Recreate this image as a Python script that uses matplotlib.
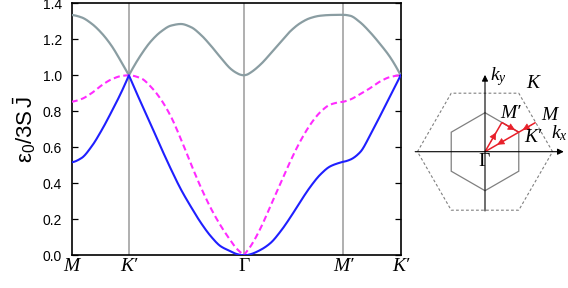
import numpy as np
import matplotlib
matplotlib.use("Agg")
import matplotlib.pyplot as plt
from matplotlib.patches import Polygon, FancyArrowPatch

# ---------------- data ----------------
sym_pos = [0.0, 0.577, 1.732, 2.732, 3.309]
sym_labels = ["M", "K′", "Γ", "M′", "K′"]
sym_italic = [True, True, False, True, True]

k_path = [0.0, 0.1, 0.2, 0.3, 0.4, 0.5, 0.577,
          0.7, 0.8, 0.9, 1.0, 1.1, 1.2, 1.3, 1.4, 1.5, 1.6, 1.65, 1.7, 1.732,
          1.76, 1.8, 1.9, 2.0, 2.1, 2.2, 2.3, 2.4, 2.5, 2.6, 2.7, 2.732,
          2.8, 2.9, 3.0, 3.1, 3.2, 3.309]

band_upper = [1.335, 1.322, 1.288, 1.236, 1.166, 1.075, 1.000,
              1.115, 1.190, 1.243, 1.276, 1.285, 1.268, 1.225, 1.165, 1.098, 1.036, 1.016, 1.003, 1.000,
              1.003, 1.015, 1.060, 1.120, 1.183, 1.245, 1.290, 1.318, 1.331, 1.335, 1.336, 1.336,
              1.331, 1.295, 1.240, 1.175, 1.103, 1.000]

band_lower = [0.517, 0.540, 0.603, 0.692, 0.795, 0.905, 1.000,
              0.845, 0.723, 0.598, 0.478, 0.366, 0.270, 0.181, 0.106, 0.050, 0.022, 0.009, 0.002, 0.000,
              0.001, 0.006, 0.030, 0.068, 0.132, 0.211, 0.298, 0.380, 0.448, 0.494, 0.515, 0.520,
              0.531, 0.572, 0.665, 0.772, 0.882, 1.000]

band_mid = [0.853, 0.868, 0.900, 0.943, 0.977, 0.996, 1.000,
            0.983, 0.935, 0.865, 0.770, 0.645, 0.508, 0.378, 0.262, 0.164, 0.081, 0.043, 0.016, 0.000,
            0.020, 0.050, 0.150, 0.274, 0.399, 0.523, 0.634, 0.726, 0.795, 0.837, 0.851, 0.853,
            0.865, 0.895, 0.928, 0.965, 0.990, 1.000]

y_ticks = [0.0, 0.2, 0.4, 0.6, 0.8, 1.0, 1.2, 1.4]
y_ticklabels = ["0.0", "0.2", "0.4", "0.6", "0.8", "1.0", "1.2", "1.4"]


# ---------------- smooth rendering helper (monotone cubic, per path segment) ----------------
def _pchip_slopes(x, y):
    h = np.diff(x)
    d = np.diff(y) / h
    n = len(x)
    m = np.zeros(n)
    if n == 2:
        m[:] = d[0]
        return m
    for i in range(1, n - 1):
        if d[i - 1] * d[i] <= 0:
            m[i] = 0.0
        else:
            w1 = 2 * h[i] + h[i - 1]
            w2 = h[i] + 2 * h[i - 1]
            m[i] = (w1 + w2) / (w1 / d[i - 1] + w2 / d[i])
    m[0] = ((2 * h[0] + h[1]) * d[0] - h[0] * d[1]) / (h[0] + h[1])
    if np.sign(m[0]) != np.sign(d[0]):
        m[0] = 0.0
    m[-1] = ((2 * h[-1] + h[-2]) * d[-1] - h[-1] * d[-2]) / (h[-1] + h[-2])
    if np.sign(m[-1]) != np.sign(d[-1]):
        m[-1] = 0.0
    return m


def smooth_path(xs, ys, breaks, n=30):
    xs = np.asarray(xs, float)
    ys = np.asarray(ys, float)
    outx, outy = [], []
    for a, b in zip(breaks[:-1], breaks[1:]):
        sel = (xs >= a - 1e-9) & (xs <= b + 1e-9)
        x, y = xs[sel], ys[sel]
        m = _pchip_slopes(x, y)
        for i in range(len(x) - 1):
            h = x[i + 1] - x[i]
            t = np.linspace(0, 1, n)
            h00 = 2 * t**3 - 3 * t**2 + 1
            h10 = t**3 - 2 * t**2 + t
            h01 = -2 * t**3 + 3 * t**2
            h11 = t**3 - t**2
            outx.append(x[i] + t * h)
            outy.append(h00 * y[i] + h10 * h * m[i] + h01 * y[i + 1] + h11 * h * m[i + 1])
    return np.concatenate(outx), np.concatenate(outy)


# ---------------- style ----------------
plt.rcParams["mathtext.fontset"] = "custom"
plt.rcParams["mathtext.rm"] = "Liberation Serif"
plt.rcParams["mathtext.it"] = "Liberation Serif:italic"
plt.rcParams["mathtext.bf"] = "Liberation Serif:bold"
plt.rcParams["font.family"] = ["Liberation Sans", "DejaVu Sans"]

W, H = 568, 288
fig = plt.figure(figsize=(W / 100, H / 100), dpi=100)

ax_l, ax_r, ax_t, ax_b = 71.5, 400.7, 3.3, 255.3
ax = fig.add_axes([ax_l / W, (H - ax_b) / H, (ax_r - ax_l) / W, (ax_b - ax_t) / H])

c_gray = "#8a9da2"
c_blue = "#1f1fff"
c_mag = "#ff2bff"

for xv in sym_pos[1:-1]:
    ax.axvline(xv, color="#9a9a9a", lw=1.1, zorder=1)

xu, yu = smooth_path(k_path, band_upper, sym_pos)
xm, ym = smooth_path(k_path, band_mid, sym_pos)
xl, yl = smooth_path(k_path, band_lower, sym_pos)
ax.plot(xu, yu, color=c_gray, lw=1.6, zorder=3)
ax.plot(xm, ym, color=c_mag, lw=1.5, ls=(0, (3.0, 1.7)), zorder=3)
ax.plot(xl, yl, color=c_blue, lw=1.5, zorder=4)

ax.set_xlim(sym_pos[0], sym_pos[-1])
ax.set_ylim(0, 1.4)
ax.set_xticks(sym_pos)
ax.set_xticklabels(sym_labels, fontsize=14, family=["Liberation Serif", "DejaVu Serif"])
for lab, it in zip(ax.get_xticklabels(), sym_italic):
    lab.set_fontstyle("italic" if it else "normal")
ax.tick_params(axis="x", length=0, pad=2)
ax.set_yticks(y_ticks)
ax.set_yticklabels(y_ticklabels, fontsize=10)
ax.tick_params(axis="y", direction="in", length=4, width=0.9, left=True, right=True, pad=7)
for s in ax.spines.values():
    s.set_linewidth(1.2)

ax.set_ylabel(r"$\mathregular{ε_{0}/3S\,\bar{J}}$", fontsize=16,
              family=["Liberation Sans Narrow", "Liberation Sans", "DejaVu Sans"], labelpad=3)

# ---------------- inset: Brillouin zone sketch ----------------
scale = 39.0           # px per unit
gx, gy = 485.0, 151.7  # Gamma position in px
ix0, ix1, iy0, iy1 = 405.0, 568.0, 60.0, 216.0
iax = fig.add_axes([ix0 / W, (H - iy1) / H, (ix1 - ix0) / W, (iy1 - iy0) / H])
iax.set_xlim((ix0 - gx) / scale, (ix1 - gx) / scale)
iax.set_ylim((gy - iy1) / scale, (gy - iy0) / scale)
iax.axis("off")

ang_small = np.deg2rad(np.arange(30, 390, 60))
small = np.column_stack([np.cos(ang_small), np.sin(ang_small)])
ang_big = np.deg2rad(np.arange(0, 360, 60))
big = np.sqrt(3) * np.column_stack([np.cos(ang_big), np.sin(ang_big)])
iax.add_patch(Polygon(small, closed=True, fill=False, ec="#808080", lw=0.9))
iax.add_patch(Polygon(big, closed=True, fill=False, ec="#808080", lw=0.8, ls=(0, (2.5, 2.0)), clip_on=False))

iax.annotate("", xy=(2.02, 0), xytext=(-1.79, 0),
             arrowprops=dict(arrowstyle="-|>", color="black", lw=0.8, mutation_scale=9, shrinkA=0, shrinkB=0))
iax.annotate("", xy=(0, 1.97), xytext=(0, -1.52),
             arrowprops=dict(arrowstyle="-|>", color="black", lw=0.8, mutation_scale=9, shrinkA=0, shrinkB=0))

a30, a60 = np.deg2rad(30), np.deg2rad(60)
P_M = 1.5 * np.array([np.cos(a30), np.sin(a30)])
P_K = np.array([np.cos(a30), np.sin(a30)])
P_G = np.array([0.0, 0.0])
P_Mp = (np.sqrt(3) / 2) * np.array([np.cos(a60), np.sin(a60)])

red = "#e8202a"
path = [P_M, P_K, P_G, P_Mp, P_K]
for a, b in zip(path[:-1], path[1:]):
    iax.plot([a[0], b[0]], [a[1], b[1]], color=red, lw=1.1, solid_capstyle="butt")
    mid = 0.5 * (a + b)
    d = (b - a) / np.linalg.norm(b - a)
    iax.add_patch(FancyArrowPatch(mid - 0.14 * d, mid + 0.14 * d, arrowstyle="-|>",
                                  mutation_scale=11, color=red, lw=0.5, shrinkA=0, shrinkB=0))

tk = dict(fontsize=14, color="black")
iax.text(0.12, 1.92, r"$k_y$", ha="left", va="center", **tk)
iax.text(1.70, 0.48, r"$k_x$", ha="left", va="center", **tk)
sf = dict(fontsize=14, color="black", family=["Liberation Serif", "DejaVu Serif"], ha="center", va="center")
iax.text(1.23, 1.75, "K", style="italic", **sf)
iax.text(0.65, 0.98, "M′", style="italic", **sf)
iax.text(1.64, 0.93, "M", style="italic", **sf)
iax.text(1.22, 0.36, "K′", style="italic", **sf)
iax.text(-0.03, -0.24, "Γ", style="normal", **sf)

fig.savefig("out.png", dpi=100)
